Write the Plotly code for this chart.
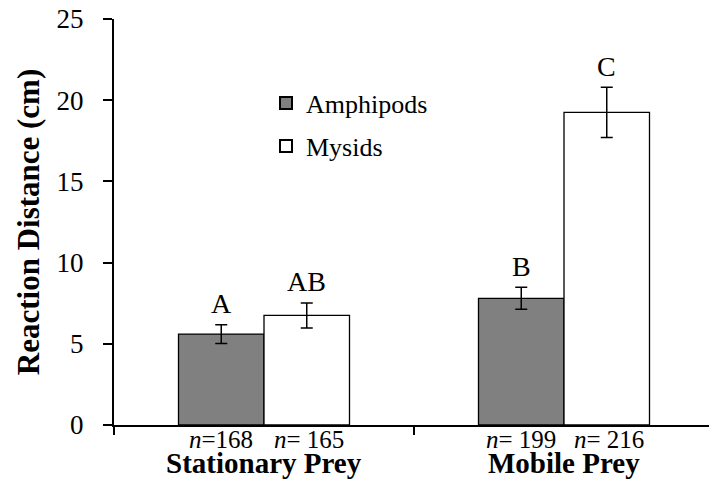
import plotly.graph_objects as go

categories = ["Stationary Prey", "Mobile Prey"]
amphipods = [5.6, 7.8]
amphipods_err = [0.58, 0.68]
mysids = [6.75, 19.25]
mysids_err = [0.77, 1.55]
amph_letters = ["A", "B"]
mysid_letters = ["AB", "C"]
amph_n = ["<i>n</i>=168", "<i>n</i>= 199"]
mysid_n = ["<i>n</i>= 165", "<i>n</i>= 216"]
yticks = [0, 5, 10, 15, 20, 25]

FONT = "Liberation Serif, Times New Roman, serif"
W, H = 709, 486
L, T, B = 114, 19, 61
plot_w = W - L
cat_px = 300.0
xmax = -0.5 + plot_w / cat_px

fig = go.Figure()
fig.add_trace(go.Bar(
    x=categories, y=amphipods, name="Amphipods",
    marker=dict(color="#808080", line=dict(color="black", width=1.3)),
    error_y=dict(type="data", array=amphipods_err, color="black", thickness=1.5, width=6),
    legendgroup="a",
))
fig.add_trace(go.Bar(
    x=categories, y=mysids, name="Mysids",
    marker=dict(color="white", line=dict(color="black", width=1.3)),
    error_y=dict(type="data", array=mysids_err, color="black", thickness=1.5, width=6),
    legendgroup="m",
))

half = 0.285 * cat_px / 2
anns = []
for i, c in enumerate(categories):
    anns.append(dict(x=c, y=amphipods[i] + amphipods_err[i], xref="x", yref="y",
                     text=amph_letters[i], showarrow=False, xshift=-half, yshift=21,
                     yanchor="middle", font=dict(family=FONT, size=28, color="black")))
    anns.append(dict(x=c, y=mysids[i] + mysids_err[i], xref="x", yref="y",
                     text=mysid_letters[i], showarrow=False, xshift=half, yshift=21,
                     yanchor="middle", font=dict(family=FONT, size=28, color="black")))
    anns.append(dict(x=c, y=0, xref="x", yref="y", text=amph_n[i], showarrow=False,
                     xshift=-half, yshift=-14, yanchor="middle",
                     font=dict(family=FONT, size=25, color="black")))
    anns.append(dict(x=c, y=0, xref="x", yref="y", text=mysid_n[i], showarrow=False,
                     xshift=half + 2, yshift=-14, yanchor="middle",
                     font=dict(family=FONT, size=25, color="black")))
    anns.append(dict(x=c, y=0, xref="x", yref="y", text="<b>" + c + "</b>", showarrow=False,
                     yshift=-38, yanchor="middle",
                     font=dict(family=FONT, size=29, color="black")))

anns.append(dict(x=(28 - L) / plot_w, y=(425.3 - 222.5) / 406, xref="paper", yref="paper",
                 text="<b>Reaction Distance (cm)</b>", textangle=-90, showarrow=False,
                 xanchor="center", yanchor="middle",
                 font=dict(family=FONT, size=31, color="black")))

fig.update_layout(
    width=W, height=H,
    margin=dict(l=L, r=0, t=T, b=B, autoexpand=False),
    paper_bgcolor="white", plot_bgcolor="white",
    barmode="group", bargap=0.43, bargroupgap=0,
    showlegend=True,
    legend=dict(x=(266 - L) / plot_w, y=(425.3 - 80) / 406, xanchor="left", yanchor="top",
                font=dict(family=FONT, size=26, color="black"),
                bgcolor="rgba(0,0,0,0)", tracegroupgap=6, traceorder="grouped",
                itemsizing="constant"),
    annotations=anns,
    xaxis=dict(type="category", range=[-0.5, xmax], showticklabels=False,
               showline=True, linecolor="black", linewidth=2,
               ticks="outside", tickson="boundaries", ticklen=8, tickwidth=2, tickcolor="black",
               showgrid=False, zeroline=False, fixedrange=True),
    yaxis=dict(range=[0, 25], tickvals=yticks, showline=True, linecolor="black", linewidth=2,
               ticks="outside", ticklen=9, tickwidth=2, tickcolor="black",
               showgrid=False, zeroline=False, ticklabelstandoff=14,
               tickfont=dict(family=FONT, size=27, color="black")),
)

fig.write_html("out.html")
